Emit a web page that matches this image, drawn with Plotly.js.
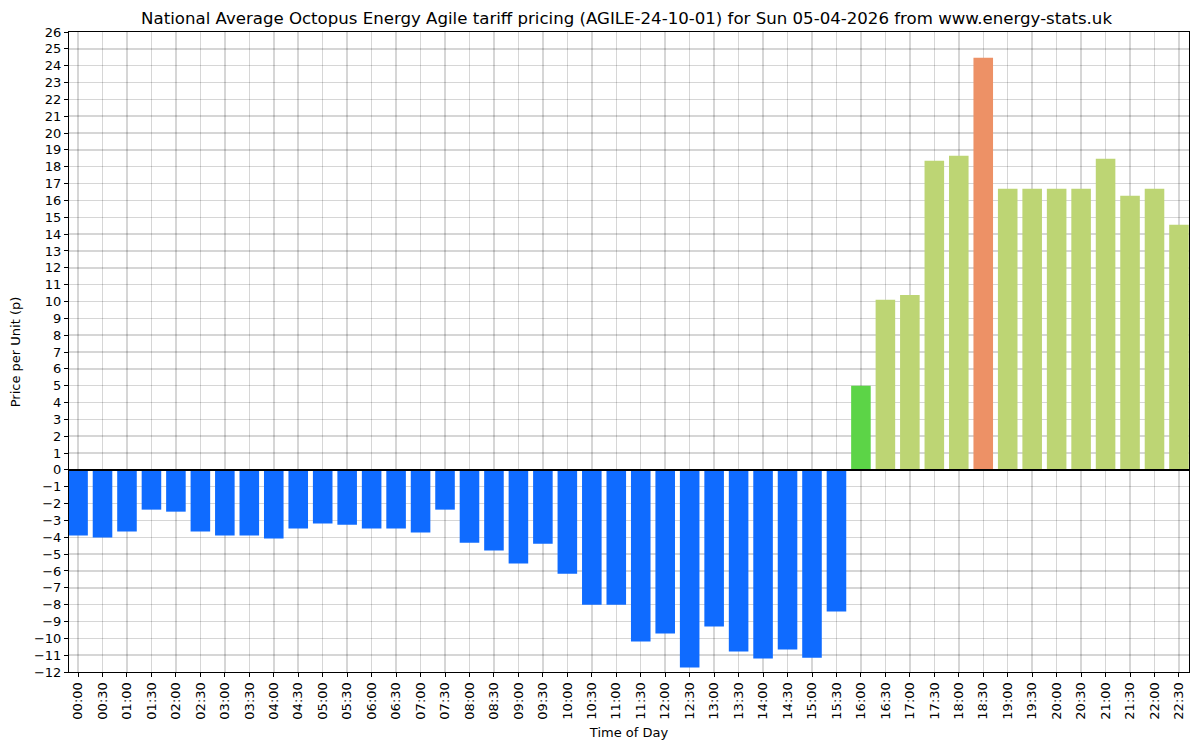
<!DOCTYPE html>
<html>
<head>
<meta charset="utf-8">
<script src="https://cdn.plot.ly/plotly-3.0.1.min.js"></script>
<style>html,body{margin:0;padding:0;background:#fff;}#chart{width:1198px;height:751px;}</style>
</head>
<body>
<div id="chart"></div>
<script>
const timeLabels = ["00:00","00:30","01:00","01:30","02:00","02:30","03:00","03:30","04:00","04:30",
  "05:00","05:30","06:00","06:30","07:00","07:30","08:00","08:30","09:00","09:30",
  "10:00","10:30","11:00","11:30","12:00","12:30","13:00","13:30","14:00","14:30",
  "15:00","15:30","16:00","16:30","17:00","17:30","18:00","18:30","19:00","19:30",
  "20:00","20:30","21:00","21:30","22:00","22:30"];
const prices = [-3.90,-4.02,-3.66,-2.36,-2.48,-3.66,-3.90,-3.90,-4.08,-3.48,
  -3.19,-3.25,-3.48,-3.48,-3.72,-2.36,-4.32,-4.79,-5.56,-4.38,
  -6.16,-8.00,-8.00,-10.19,-9.72,-11.74,-9.30,-10.79,-11.20,-10.67,
  -11.15,-8.41,5.00,10.10,10.39,18.35,18.65,24.47,16.69,16.69,
  16.69,16.69,18.47,16.27,16.69,14.55];
const yTicks = [];
for (let v = -12; v <= 26; v++) yTicks.push(v);

const COL_NEG = "#0F6BFF", COL_LOW = "#5CD447", COL_MID = "#BDD574", COL_HIGH = "#ED9166";
const colors = prices.map(p => p < 0 ? COL_NEG : (p <= 5 ? COL_LOW : (p < 20 ? COL_MID : COL_HIGH)));
const xIdx = timeLabels.map((_, i) => i);

const font = "DejaVu Sans, sans-serif";
const trace = {
  type: "bar", x: xIdx, y: prices, width: 0.8,
  marker: {color: colors, line: {width: 0}},
  hoverinfo: "skip"
};
const gridCol = "rgba(0,0,0,0.16)";
const layout = {
  width: 1198, height: 751,
  margin: {l: 69, r: 9, t: 32, b: 79},
  paper_bgcolor: "#fff", plot_bgcolor: "#fff",
  font: {family: font, size: 13, color: "#000"},
  showlegend: false,
  title: {text: "National Average Octopus Energy Agile tariff pricing (AGILE-24-10-01) for Sun 05-04-2026 from www.energy-stats.uk",
          font: {family: font, size: 16.6, color: "#000"}, x: 0.523, xanchor: "center", y: 0.976, yanchor: "middle"},
  xaxis: {
    range: [-0.37, 45.41], tickmode: "array", tickvals: xIdx, ticktext: timeLabels, tickangle: -90,
    ticks: "outside", ticklen: 4, tickcolor: "#000", tickwidth: 1,
    showline: true, linecolor: "#000", linewidth: 1, mirror: true,
    showgrid: true, gridcolor: gridCol, gridwidth: 1.5, zeroline: false,
    tickfont: {family: font, size: 13, color: "#000"},
    title: {text: "Time of Day", font: {family: font, size: 13, color: "#000"}, standoff: 9},
    automargin: false
  },
  yaxis: {
    range: [-12, 26], tickmode: "array", tickvals: yTicks,
    ticks: "outside", ticklen: 4, tickcolor: "#000", tickwidth: 1,
    showline: true, linecolor: "#000", linewidth: 1, mirror: true,
    showgrid: true, gridcolor: gridCol, gridwidth: 1.5, zeroline: false,
    tickfont: {family: font, size: 13, color: "#000"},
    title: {text: "Price per Unit (p)", font: {family: font, size: 13, color: "#000"}, standoff: 10},
    automargin: false
  },
  shapes: [{type: "line", xref: "paper", x0: 0, x1: 1, yref: "y", y0: 0, y1: 0,
            line: {color: "#000", width: 2}, layer: "above"}]
};
Plotly.newPlot("chart", [trace], layout, {staticPlot: true, displayModeBar: false});
</script>
</body>
</html>
